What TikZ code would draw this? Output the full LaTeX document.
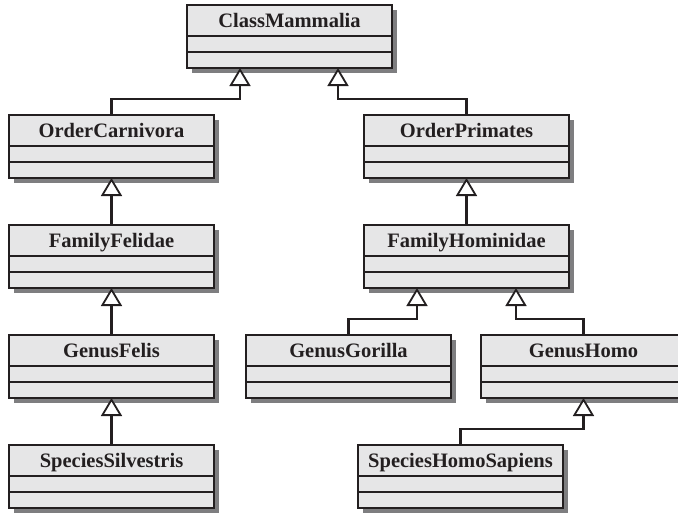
\documentclass[tikz,border=0pt]{standalone}
\usepackage{fontspec}
\setmainfont{Liberation Serif}
\usetikzlibrary{arrows.meta,shadows}
\definecolor{boxfill}{HTML}{E6E6E7}
\definecolor{shadowgray}{HTML}{7E7E80}
\definecolor{ink}{HTML}{231F20}
\newcommand\umlbox[4]{%
  \node[umlclass] (#1) at (#2,#3) {};
  \node[classname] (#1-t) at ([yshift=-22pt]#1.north) {#4};
  \draw[sep] ([yshift=-31pt]#1.north west) -- ([yshift=-31pt]#1.north east);
  \draw[sep] ([yshift=-47pt]#1.north west) -- ([yshift=-47pt]#1.north east);
}
\begin{document}
\begin{tikzpicture}[x=1pt,y=-1pt,
  umlclass/.style={draw=ink, line width=1.5pt, fill=boxfill, minimum width=205pt, minimum height=63pt, inner sep=0pt, outer sep=0pt,
    drop shadow={shadow xshift=5pt, shadow yshift=-5pt, fill=shadowgray, opacity=1}},
  classname/.style={font=\fontsize{20.5}{24}\selectfont\bfseries, text=ink, inner sep=0pt, anchor=base},
  sep/.style={draw=ink, line width=1.3pt},
  inh/.style={draw=ink, line width=2.6pt, -{Triangle[width=21pt,length=18pt,fill=white,line width=1.8pt]}}
]
\useasboundingbox (0,0) rectangle (678,512);
\fill[white] (0,0) rectangle (678,512);

\umlbox{cm}{289.5}{36.5}{ClassMammalia}
\umlbox{oc}{111.5}{146.5}{OrderCarnivora}
\umlbox{op}{466.5}{146.5}{OrderPrimates}
\umlbox{ff}{111.5}{256.5}{FamilyFelidae}
\umlbox{fh}{466.5}{256.5}{FamilyHominidae}
\umlbox{gf}{111.5}{366.5}{GenusFelis}
\umlbox{gg}{348.5}{366.5}{GenusGorilla}
\umlbox{gh}{583.5}{366.5}{GenusHomo}
\umlbox{ss}{111.5}{476.5}{SpeciesSilvestris}
\umlbox{shs}{460.5}{476.5}{SpeciesHomoSapiens}

\draw[inh] (oc.north) |- ([xshift=-49.5pt,yshift=-31pt]cm.south) -- ([xshift=-49.5pt]cm.south);
\draw[inh] (op.north) |- ([xshift=48.5pt,yshift=-31pt]cm.south) -- ([xshift=48.5pt]cm.south);
\draw[inh] (ff.north) -- (oc.south);
\draw[inh] (fh.north) -- (op.south);
\draw[inh] (gf.north) -- (ff.south);
\draw[inh] (gg.north) |- ([xshift=-49.5pt,yshift=-31pt]fh.south) -- ([xshift=-49.5pt]fh.south);
\draw[inh] (gh.north) |- ([xshift=49.5pt,yshift=-31pt]fh.south) -- ([xshift=49.5pt]fh.south);
\draw[inh] (ss.north) -- (gf.south);
\draw[inh] (shs.north) |- ([yshift=-31pt]gh.south) -- (gh.south);
\end{tikzpicture}
\end{document}
